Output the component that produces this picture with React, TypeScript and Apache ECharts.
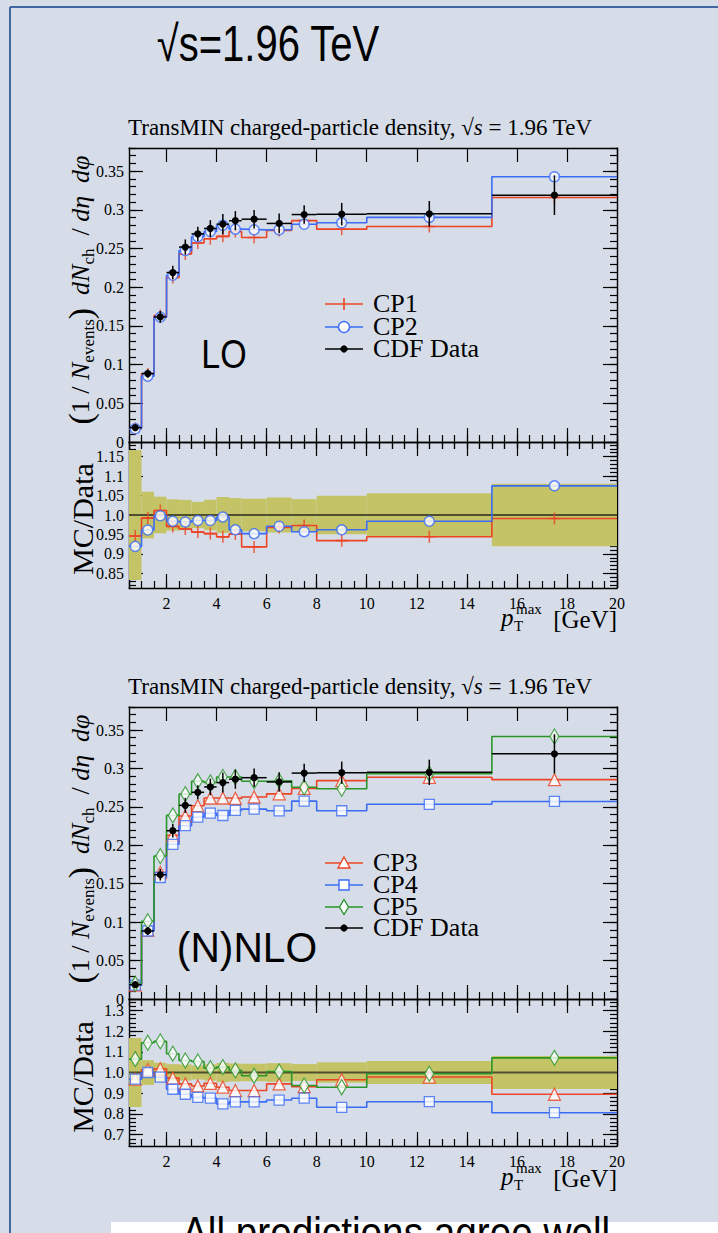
import React, { useEffect, useRef } from "react";
import * as echarts from "echarts";

// ---------------- data ----------------
const binEdges = [0.5, 1, 1.5, 2, 2.5, 3, 3.5, 4, 4.5, 5, 6, 7, 8, 10, 15, 20];
const binCenters = [0.75, 1.25, 1.75, 2.25, 2.75, 3.25, 3.75, 4.25, 4.75, 5.5, 6.5, 7.5, 9, 12.5, 17.5];
const cdfData = [0.0186, 0.0885, 0.1617, 0.219, 0.252, 0.269, 0.276, 0.2816, 0.286, 0.288, 0.2825, 0.294, 0.2945, 0.295, 0.319];
const cdfErr = [0.0031, 0.0053, 0.0076, 0.0088, 0.0098, 0.0091, 0.0108, 0.013, 0.0124, 0.012, 0.0127, 0.012, 0.0145, 0.0165, 0.0256];
const cp1 = [0.0176, 0.0878, 0.1636, 0.2126, 0.2429, 0.2572, 0.2628, 0.2658, 0.272, 0.2644, 0.2735, 0.2861, 0.2751, 0.2785, 0.3161];
const cp2 = [0.0171, 0.0851, 0.1614, 0.2155, 0.2475, 0.2652, 0.2721, 0.2802, 0.2751, 0.2742, 0.2743, 0.2814, 0.2833, 0.2903, 0.3429];
const cp3 = [0.018, 0.0897, 0.1646, 0.2131, 0.2381, 0.2515, 0.2616, 0.2616, 0.2611, 0.2629, 0.267, 0.274, 0.2842, 0.2885, 0.2855];
const cp4 = [0.018, 0.0885, 0.1581, 0.2013, 0.2255, 0.2367, 0.2418, 0.2388, 0.2454, 0.2471, 0.2449, 0.2575, 0.245, 0.2534, 0.2571];
const cp5 = [0.0198, 0.1012, 0.186, 0.2389, 0.2666, 0.2833, 0.2818, 0.2889, 0.2889, 0.2834, 0.2839, 0.2755, 0.2736, 0.2932, 0.3416];

const xMajorTicks = [2, 4, 6, 8, 10, 12, 14, 16, 18, 20];
const mainYTicks = [0, 0.05, 0.1, 0.15, 0.2, 0.25, 0.3, 0.35];
const ratioTopTicks = [0.85, 0.9, 0.95, 1.0, 1.05, 1.1, 1.15];
const ratioBottomTicks = [0.7, 0.8, 0.9, 1.0, 1.1, 1.2, 1.3];

const seq = (a: number, b: number, s: number) => {
  const out: number[] = [];
  for (let v = a; v <= b + 1e-9; v += s) out.push(Math.round(v * 1000) / 1000);
  return out;
};
const xMinorTicks = seq(0.5, 20, 0.5);
const mainYMinor = seq(0, 0.38, 0.01);
const ratioTopMinor = seq(0.82, 1.18, 0.01);
const ratioBottomMinor = seq(0.66, 1.34, 0.02);

// ---------------- styles ----------------
const SERIF = "Liberation Serif";
const SANS = "Liberation Sans";
const RED = "#ec4424";
const BLUE = "#3b6cf6";
const GREEN = "#2a962a";
const BAND = "#c4c466";
const BG = "#d6dde8";
const PLUS = "path://M-1,-0.13L1,-0.13L1,0.13L-1,0.13Z M-0.13,-1L0.13,-1L0.13,1L-0.13,1Z";

type Model = { name: string; vals: number[]; color: string; sym: string };
const topModels: Model[] = [
  { name: "CP1", vals: cp1, color: RED, sym: "plus" },
  { name: "CP2", vals: cp2, color: BLUE, sym: "circle" },
];
const bottomModels: Model[] = [
  { name: "CP3", vals: cp3, color: RED, sym: "triangle" },
  { name: "CP4", vals: cp4, color: BLUE, sym: "square" },
  { name: "CP5", vals: cp5, color: GREEN, sym: "diamond" },
];

const stepPoints = (vals: number[]) => {
  const pts: number[][] = [];
  vals.forEach((v, i) => {
    pts.push([binEdges[i], v]);
    pts.push([binEdges[i + 1], v]);
  });
  return pts;
};

const symbolOf = (m: Model) => {
  switch (m.sym) {
    case "plus":
      return { symbol: PLUS, symbolSize: 12, itemStyle: { color: m.color } };
    case "circle":
      return { symbol: "circle", symbolSize: 10, itemStyle: { color: "#fff", borderColor: m.color, borderWidth: 1.5 } };
    case "triangle":
      return { symbol: "triangle", symbolSize: 12, itemStyle: { color: "#fff", borderColor: m.color, borderWidth: 1.3 } };
    case "square":
      return { symbol: "rect", symbolSize: 10, itemStyle: { color: "#fff", borderColor: m.color, borderWidth: 1.3 } };
    default:
      return { symbol: "diamond", symbolSize: [9, 15], itemStyle: { color: "#fff", borderColor: m.color, borderWidth: 1.3 } };
  }
};

const tickLine = { color: "#000", width: 1.2 };
const frameLine = { show: true, onZero: false, lineStyle: { color: "#000", width: 1.4 } };

function makeXAxes(g: number, labels: boolean) {
  const base: any = { type: "value", gridIndex: g, min: binEdges[0], max: binEdges[binEdges.length - 1], splitLine: { show: false } };
  const major = { show: true, inside: true, length: 14, customValues: xMajorTicks, lineStyle: tickLine };
  const minor = { show: true, inside: true, length: 7, customValues: xMinorTicks, lineStyle: tickLine };
  return [
    {
      ...base, position: "bottom", axisLine: frameLine, axisTick: major,
      axisLabel: labels
        ? { show: true, customValues: xMajorTicks, margin: 7, fontFamily: SERIF, fontSize: 16, color: "#000" }
        : { show: false },
    },
    { ...base, position: "top", axisLine: frameLine, axisTick: major, axisLabel: { show: false } },
    { ...base, position: "bottom", axisLine: { show: false }, axisTick: minor, axisLabel: { show: false } },
    { ...base, position: "top", axisLine: { show: false }, axisTick: minor, axisLabel: { show: false } },
  ];
}

function makeYAxes(g: number, min: number, max: number, majorV: number[], minorV: number[], fmt: (v: number) => string) {
  const base: any = { type: "value", gridIndex: g, min, max, splitLine: { show: false } };
  const major = { show: true, inside: true, length: 14, customValues: majorV, lineStyle: tickLine };
  const minor = { show: true, inside: true, length: 7, customValues: minorV, lineStyle: tickLine };
  return [
    {
      ...base, position: "left", axisLine: frameLine, axisTick: major,
      axisLabel: { show: true, customValues: majorV, margin: 5, fontFamily: SERIF, fontSize: 16, color: "#000", formatter: fmt },
    },
    { ...base, position: "right", axisLine: frameLine, axisTick: major, axisLabel: { show: false } },
    { ...base, position: "left", axisLine: { show: false }, axisTick: minor, axisLabel: { show: false } },
    { ...base, position: "right", axisLine: { show: false }, axisTick: minor, axisLabel: { show: false } },
  ];
}

const fmtMain = (v: number) => (v === 0 ? "0" : String(+v.toFixed(2)));
const fmtRatioTop = (v: number) => (Math.abs(v - 1) < 1e-9 ? "1.0" : String(+v.toFixed(2)));
const fmtRatioBottom = (v: number) => v.toFixed(1);

function panelSeries(mainG: number, ratioG: number, models: Model[]) {
  const mx = mainG * 4, rx = ratioG * 4;
  const s: any[] = [];
  // ratio band
  s.push({
    type: "custom", xAxisIndex: rx, yAxisIndex: rx, silent: true, z: 1,
    data: binCenters.map((_, i) => [binEdges[i], binEdges[i + 1], 1 - cdfErr[i] / cdfData[i], 1 + cdfErr[i] / cdfData[i]]),
    encode: { x: [0, 1], y: [2, 3] },
    renderItem: (_p: any, api: any) => {
      const a = api.coord([api.value(0), api.value(3)]);
      const b = api.coord([api.value(1), api.value(2)]);
      return { type: "rect", shape: { x: a[0], y: a[1], width: b[0] - a[0], height: b[1] - a[1] }, style: { fill: BAND } };
    },
  });
  s.push({
    type: "line", xAxisIndex: rx, yAxisIndex: rx, silent: true, z: 2, symbol: "none",
    data: [[binEdges[0], 1], [binEdges[binEdges.length - 1], 1]],
    lineStyle: { color: "rgba(40,40,30,0.75)", width: 2 },
  });
  models.forEach((m) => {
    const sy = symbolOf(m);
    const ratio = m.vals.map((v, i) => v / cdfData[i]);
    [
      { ax: mx, vals: m.vals },
      { ax: rx, vals: ratio },
    ].forEach(({ ax, vals }) => {
      s.push({
        type: "line", name: m.name, xAxisIndex: ax, yAxisIndex: ax, silent: true, z: 3,
        symbol: "none", data: stepPoints(vals), lineStyle: { color: m.color, width: 1.6 },
      });
      s.push({
        type: "scatter", name: m.name + " points", xAxisIndex: ax, yAxisIndex: ax, silent: true, z: 4,
        data: binCenters.map((c, i) => [c, vals[i]]), ...sy,
      });
    });
  });
  // CDF data with error bars
  s.push({
    type: "custom", name: "CDF Data", xAxisIndex: mx, yAxisIndex: mx, silent: true, z: 6,
    data: binCenters.map((c, i) => [c, cdfData[i], cdfErr[i], binEdges[i], binEdges[i + 1]]),
    encode: { x: 0, y: 1 },
    renderItem: (_p: any, api: any) => {
      const x = api.value(0), y = api.value(1), e = api.value(2);
      const l = api.coord([api.value(3), y]), r = api.coord([api.value(4), y]);
      const t = api.coord([x, y + e]), b = api.coord([x, y - e]), c = api.coord([x, y]);
      return {
        type: "group",
        children: [
          { type: "line", shape: { x1: l[0], y1: l[1], x2: r[0], y2: r[1] }, style: { stroke: "#000", lineWidth: 1.5 } },
          { type: "line", shape: { x1: t[0], y1: t[1], x2: b[0], y2: b[1] }, style: { stroke: "#000", lineWidth: 1.5 } },
          { type: "circle", shape: { cx: c[0], cy: c[1], r: 3.6 }, style: { fill: "#000" } },
        ],
      };
    },
  });
  return s;
}

// ---------------- graphic helpers ----------------
function legendEntry(x: number, y: number, color: string, kind: string, label: string) {
  const cx = x + 19;
  const els: any[] = [
    { type: "line", shape: { x1: x, y1: y, x2: x + 38, y2: y }, style: { stroke: color, lineWidth: 1.6 } },
  ];
  const open = { fill: "#fff", stroke: color, lineWidth: 1.4 };
  if (kind === "plus") {
    els.push({ type: "line", shape: { x1: cx, y1: y - 6, x2: cx, y2: y + 6 }, style: { stroke: color, lineWidth: 1.6 } });
  } else if (kind === "circle") {
    els.push({ type: "circle", shape: { cx, cy: y, r: 5.5 }, style: open });
  } else if (kind === "triangle") {
    els.push({ type: "polygon", shape: { points: [[cx, y - 6], [cx + 6, y + 5], [cx - 6, y + 5]] }, style: open });
  } else if (kind === "square") {
    els.push({ type: "rect", shape: { x: cx - 5, y: y - 5, width: 10, height: 10 }, style: open });
  } else if (kind === "diamond") {
    els.push({ type: "polygon", shape: { points: [[cx, y - 7.5], [cx + 4.5, y], [cx, y + 7.5], [cx - 4.5, y]] }, style: open });
  } else {
    els.push({ type: "circle", shape: { cx, cy: y, r: 3.6 }, style: { fill: "#000" } });
  }
  els.push({
    type: "text", x: x + 48, y: y - 1,
    style: { text: label, fontFamily: SERIF, fontSize: 26, fill: "#000", align: "left", verticalAlign: "middle" },
  });
  return els;
}

const yTitleRich = {
  n: { fontFamily: SERIF, fontSize: 26, lineHeight: 34, verticalAlign: "middle" },
  i: { fontFamily: SERIF, fontSize: 26, fontStyle: "italic", lineHeight: 34, verticalAlign: "middle" },
  s: { fontFamily: SERIF, fontSize: 17, lineHeight: 15, verticalAlign: "bottom" },
  p: { fontFamily: SERIF, fontSize: 34, lineHeight: 34, verticalAlign: "middle" },
};
const yTitleText = "{p|(}{n|1 / }{i|N}{s|events}{p|)}{n|  }{i|dN}{s|ch}{n|  / }{i|dη  dφ}";

function yTitle(y: number) {
  return {
    type: "text", x: 80, y, rotation: Math.PI / 2,
    style: { text: yTitleText, rich: yTitleRich, align: "center", verticalAlign: "middle", fill: "#000" },
  };
}
function ratioTitle(y: number) {
  return {
    type: "text", x: 82, y, rotation: Math.PI / 2,
    style: { text: "MC/Data", fontFamily: SERIF, fontSize: 30, fill: "#000", align: "center", verticalAlign: "middle" },
  };
}
function xTitle(dy: number) {
  return [
    { type: "text", x: 501, y: 617 + dy, style: { text: "p", fontFamily: SERIF, fontStyle: "italic", fontSize: 25, fill: "#000", align: "left", verticalAlign: "middle" } },
    { type: "text", x: 514, y: 626 + dy, style: { text: "T", fontFamily: SERIF, fontSize: 15, fill: "#000", align: "left", verticalAlign: "middle" } },
    { type: "text", x: 516, y: 609 + dy, style: { text: "max", fontFamily: SERIF, fontSize: 15, fill: "#000", align: "left", verticalAlign: "middle" } },
    { type: "text", x: 617, y: 619 + dy, style: { text: "[GeV]", fontFamily: SERIF, fontSize: 25, fill: "#000", align: "right", verticalAlign: "middle" } },
  ];
}
function subtitle(y: number) {
  return {
    type: "text", x: 128, y,
    style: {
      text: "{n|TransMIN charged-particle density, }{n|√}{i|s}{n| = 1.96 TeV}",
      rich: {
        n: { fontFamily: SERIF, fontSize: 23 },
        i: { fontFamily: SERIF, fontSize: 23, fontStyle: "italic" },
      },
      fill: "#000", align: "left", verticalAlign: "middle",
    },
  };
}

function buildOption() {
  const grid = [
    { left: 129, top: 148, width: 488, height: 294 },
    { left: 129, top: 442, width: 488, height: 146 },
    { left: 129, top: 707, width: 488, height: 292 },
    { left: 129, top: 999, width: 488, height: 147 },
  ];
  const xAxis = [...makeXAxes(0, false), ...makeXAxes(1, true), ...makeXAxes(2, false), ...makeXAxes(3, true)];
  const yAxis = [
    ...makeYAxes(0, 0, 0.38, mainYTicks, mainYMinor, fmtMain),
    ...makeYAxes(1, 0.8125, 1.1875, ratioTopTicks, ratioTopMinor, fmtRatioTop),
    ...makeYAxes(2, 0, 0.38, mainYTicks, mainYMinor, fmtMain),
    ...makeYAxes(3, 0.645, 1.355, ratioBottomTicks, ratioBottomMinor, fmtRatioBottom),
  ];
  const series = [...panelSeries(0, 1, topModels), ...panelSeries(2, 3, bottomModels)];

  const graphic: any[] = [
    { type: "line", shape: { x1: 10, y1: 7, x2: 718, y2: 7 }, style: { stroke: "#4466a0", lineWidth: 2 } },
    { type: "line", shape: { x1: 10, y1: 7, x2: 10, y2: 1233 }, style: { stroke: "#4466a0", lineWidth: 2 } },
    { type: "rect", shape: { x: 111, y: 1222, width: 607, height: 11 }, style: { fill: "#ffffff" } },
    {
      type: "text", x: 268, y: 44, scaleX: 0.8,
      style: { text: "√s=1.96 TeV", fontFamily: SANS, fontSize: 50, fill: "#000", align: "center", verticalAlign: "middle" },
    },
    subtitle(127),
    subtitle(686),
    {
      type: "text", x: 224, y: 354, scaleX: 0.85,
      style: { text: "LO", fontFamily: SANS, fontSize: 40, fill: "#000", align: "center", verticalAlign: "middle" },
    },
    {
      type: "text", x: 247, y: 948, scaleX: 0.97,
      style: { text: "(N)NLO", fontFamily: SANS, fontSize: 42, fill: "#000", align: "center", verticalAlign: "middle" },
    },
    yTitle(290),
    yTitle(849),
    ratioTitle(519),
    ratioTitle(1077),
    ...xTitle(0),
    ...xTitle(559),
    ...legendEntry(325, 304, RED, "plus", "CP1"),
    ...legendEntry(325, 327, BLUE, "circle", "CP2"),
    ...legendEntry(325, 349, "#000", "dot", "CDF Data"),
    ...legendEntry(325, 863, RED, "triangle", "CP3"),
    ...legendEntry(325, 885, BLUE, "square", "CP4"),
    ...legendEntry(325, 907, GREEN, "diamond", "CP5"),
    ...legendEntry(325, 928, "#000", "dot", "CDF Data"),
    {
      type: "text", x: 182, y: 1211, scaleX: 0.88,
      style: { text: "All predictions agree well", fontFamily: SANS, fontSize: 44, fill: "#000", align: "left", verticalAlign: "top" },
    },
  ];

  return {
    animation: false,
    backgroundColor: BG,
    grid,
    xAxis,
    yAxis,
    series,
    graphic,
  };
}

export default function App() {
  const ref = useRef<HTMLDivElement>(null);
  useEffect(() => {
    document.body.style.margin = "0";
    const chart = echarts.init(ref.current as HTMLDivElement, undefined, { renderer: "svg" });
    chart.setOption(buildOption() as any);
    return () => chart.dispose();
  }, []);
  return <div ref={ref} style={{ width: 718, height: 1233 }} />;
}
